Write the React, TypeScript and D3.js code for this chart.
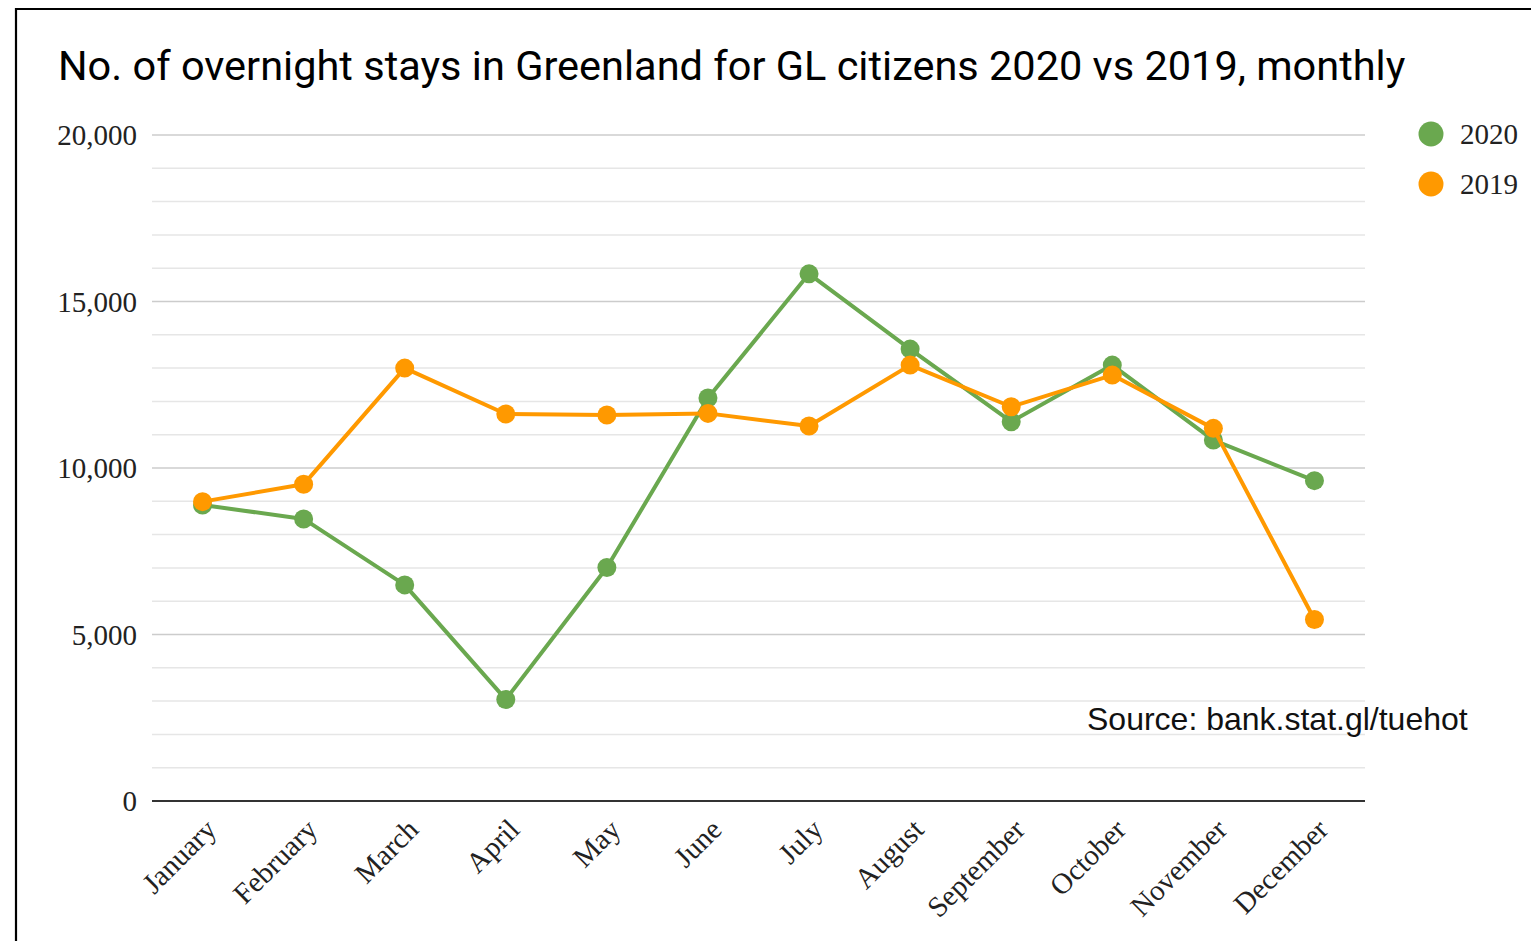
import React from "react";
import * as d3 from "d3";

const months = ["January","February","March","April","May","June","July","August","September","October","November","December"];
const values2020 = [8890, 8470, 6490, 3050, 7010, 12100, 15830, 13570, 11390, 13090, 10840, 9620];
const values2019 = [8990, 9510, 13000, 11620, 11590, 11640, 11260, 13090, 11840, 12790, 11190, 5450];
const yTicks = [0, 5000, 10000, 15000, 20000];
const seriesNames = ["2020", "2019"];
const title = "No. of overnight stays in Greenland for GL citizens 2020 vs 2019, monthly";
const source = "Source: bank.stat.gl/tuehot";

const W = 1531, H = 941;
const left = 152, right = 1365, top = 135, bottom = 801;
const GREEN = "#6aa84f", ORANGE = "#ff9900";

export default function App() {
  const x = d3.scalePoint<string>().domain(months).range([left, right]).padding(0.5);
  const y = d3.scaleLinear().domain([0, 20000]).range([bottom, top]);
  const minor = d3.range(1000, 20000, 1000).filter(v => v % 5000 !== 0);
  const line = d3.line<number>().x((_, i) => x(months[i])!).y(d => y(d));
  const series = [
    { name: seriesNames[0], values: values2020, color: GREEN },
    { name: seriesNames[1], values: values2019, color: ORANGE },
  ];
  const serif = "'Liberation Serif', 'Times New Roman', serif";
  return (
    <svg width={W} height={H} style={{ position: "absolute", left: 0, top: 0, background: "#fff" }}>
      <rect x={0} y={0} width={W} height={H} fill="#fff" />
      <path d={`M16,${H + 5} V9 H${W + 5}`} fill="none" stroke="#000" strokeWidth={2.2} />
      <text x={58} y={80} fontFamily="Roboto, sans-serif" fontSize={41.5} fill="#000">{title}</text>
      {minor.map(v => (
        <line key={"m" + v} x1={left} x2={right} y1={y(v)} y2={y(v)} stroke="#e6e6e6" strokeWidth={1.5} />
      ))}
      {yTicks.filter(v => v !== 0).map(v => (
        <line key={"g" + v} x1={left} x2={right} y1={y(v)} y2={y(v)} stroke="#cccccc" strokeWidth={1.5} />
      ))}
      <line x1={left} x2={right} y1={y(0)} y2={y(0)} stroke="#333" strokeWidth={2.2} />
      {yTicks.map(v => (
        <text key={"t" + v} x={137} y={y(v)} dy="0.35em" textAnchor="end" fontFamily={serif} fontSize={29} fill="#222">
          {d3.format(",")(v)}
        </text>
      ))}
      {months.map(m => (
        <text key={m} transform={`translate(${x(m)! + 1},${817}) rotate(-45)`} dy="0.7em" textAnchor="end"
          fontFamily={serif} fontSize={29} fill="#222">{m}</text>
      ))}
      {series.map(s => (
        <g key={s.name}>
          <path d={line(s.values)!} fill="none" stroke={s.color} strokeWidth={4} strokeLinejoin="round" />
          {s.values.map((v, i) => (
            <circle key={i} cx={x(months[i])!} cy={y(v)} r={9.5} fill={s.color} />
          ))}
        </g>
      ))}
      {series.map((s, i) => (
        <g key={"l" + s.name}>
          <circle cx={1431} cy={134 + i * 50} r={12.5} fill={s.color} />
          <text x={1460} y={134 + i * 50} dy="0.35em" fontFamily={serif} fontSize={29} fill="#222">{s.name}</text>
        </g>
      ))}
      <text x={1087} y={730} fontFamily="'Liberation Sans', Arial, sans-serif" fontSize={32} fill="#111">{source}</text>
    </svg>
  );
}
